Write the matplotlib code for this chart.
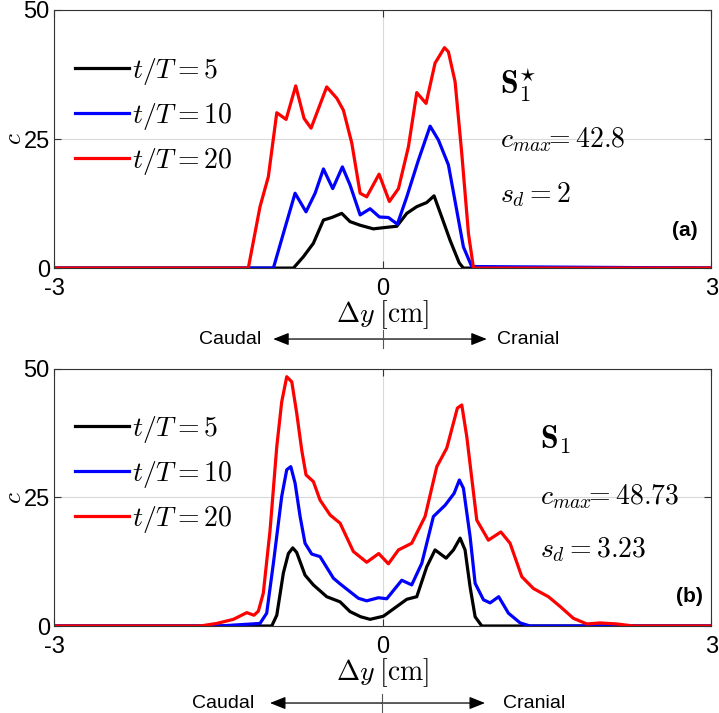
"""
plot.py -- concentration profiles c(Δy) for S1* (a) and S1 (b)
"""
import matplotlib
matplotlib.use("Agg")
import matplotlib.pyplot as plt
from matplotlib.patches import FancyArrowPatch
from matplotlib.lines import Line2D

plt.rcParams["mathtext.fontset"] = "cm"
plt.rcParams["font.family"] = ["Liberation Sans", "DejaVu Sans"]

# --- data: panel (a), S1* ----------------------------------------------------
a_x_black = [-3.0, -0.814, -0.723, -0.632, -0.540, -0.464, -0.373, -0.297, -0.205,
             -0.084, 0.038, 0.130, 0.221, 0.312, 0.403, 0.470, 0.540, 0.616, 0.700,
             0.738, 3.0]
a_c_black = [0.0, 0.0, 2.2, 4.8, 9.3, 9.8, 10.6, 9.0, 8.3,
             7.6, 7.9, 8.1, 10.6, 11.9, 12.7, 14.0, 9.9, 5.4, 1.0,
             0.0, 0.0]

a_x_blue = [-3.0, -0.997, -0.906, -0.799, -0.699, -0.616, -0.540, -0.455, -0.367,
            -0.297, -0.205, -0.114, -0.029, 0.053, 0.135, 0.221, 0.327, 0.434,
            0.510, 0.601, 0.671, 0.738, 0.814, 3.0]
a_c_blue = [0.0, 0.0, 6.7, 14.5, 10.9, 14.5, 19.2, 15.4, 19.6,
            16.1, 10.3, 11.5, 9.9, 9.8, 8.5, 13.8, 20.9, 27.5,
            24.8, 20.0, 11.9, 4.1, 0.3, 0.0]

a_x_red = [-3.0, -1.226, -1.119, -1.043, -0.966, -0.881, -0.793, -0.717, -0.653,
           -0.601, -0.510, -0.418, -0.358, -0.281, -0.205, -0.145, -0.032, 0.062,
           0.145, 0.236, 0.312, 0.397, 0.479, 0.565, 0.601, 0.662, 0.723, 0.784,
           0.830, 3.0]
a_c_red = [0.0, 0.0, 11.9, 17.7, 30.1, 28.8, 35.3, 29.0, 27.1,
           30.0, 35.1, 32.9, 30.6, 24.2, 14.5, 13.8, 18.2, 12.9,
           15.4, 23.5, 34.0, 31.9, 39.7, 42.7, 41.9, 36.1, 22.2, 6.7,
           0.0, 0.0]

# --- data: panel (b), S1 -----------------------------------------------------
b_x_black = [-3.0, -1.012, -0.966, -0.906, -0.860, -0.820, -0.784, -0.708, -0.632,
             -0.510, -0.388, -0.297, -0.200, -0.114, 0.007, 0.130, 0.221, 0.312,
             0.403, 0.479, 0.580, 0.647, 0.708, 0.753, 0.799, 0.845, 0.906, 3.0]
b_c_black = [0.0, 0.0, 2.1, 10.3, 14.1, 15.2, 14.3, 9.9, 8.0,
             5.7, 4.7, 2.8, 1.8, 1.3, 1.9, 3.8, 5.2, 5.7,
             11.5, 14.8, 13.2, 14.8, 17.1, 14.8, 7.6, 1.8, 0.0, 0.0]

b_x_blue = [-3.0, -1.500, -1.119, -1.058, -0.997, -0.921, -0.875, -0.838, -0.799,
            -0.753, -0.708, -0.647, -0.571, -0.449, -0.388, -0.221, -0.145, -0.038,
            0.038, 0.175, 0.266, 0.358, 0.464, 0.571, 0.653, 0.701, 0.738, 0.799,
            0.845, 0.921, 0.982, 1.060, 1.149, 1.256, 1.347, 3.0]
b_c_blue = [0.0, 0.0, 0.5, 2.5, 12.2, 25.2, 30.4, 31.0, 27.8,
            21.3, 16.1, 14.0, 13.5, 9.3, 8.2, 5.4, 4.9, 5.5,
            5.3, 8.9, 8.0, 12.2, 21.3, 23.5, 25.8, 28.4, 26.8, 17.4,
            8.3, 5.1, 4.5, 5.7, 2.5, 0.6, 0.0, 0.0]

b_x_red = [-3.0, -1.667, -1.514, -1.362, -1.240, -1.174, -1.134, -1.089, -1.027,
           -0.966, -0.921, -0.875, -0.829, -0.784, -0.738, -0.699, -0.632, -0.571,
           -0.479, -0.388, -0.267, -0.145, -0.035, 0.053, 0.145, 0.266, 0.388,
           0.495, 0.586, 0.683, 0.723, 0.769, 0.860, 0.966, 1.080, 1.164, 1.271,
           1.377, 1.514, 1.621, 1.742, 1.865, 1.986, 2.140, 2.290, 3.0]
b_c_red = [0.0, 0.0, 0.5, 1.3, 2.6, 2.1, 2.9, 6.4, 18.7,
           34.9, 43.6, 48.5, 47.5, 41.4, 34.2, 29.4, 28.1, 24.5,
           21.6, 20.0, 14.5, 12.4, 14.1, 12.1, 14.8, 16.1, 21.3,
           31.0, 34.6, 42.4, 43.0, 36.8, 20.6, 16.7, 18.3, 16.1, 9.6,
           7.3, 5.7, 3.8, 1.5, 0.4, 0.6, 0.4, 0.0, 0.0]

labels = [r"$t/T=5$", r"$t/T=10$", r"$t/T=20$"]
colors = ["black", "blue", "red"]

panels = [
    dict(rect=[0.0751, 0.624, 0.914, 0.362],
         xs=[a_x_black, a_x_blue, a_x_red], cs=[a_c_black, a_c_blue, a_c_red],
         name=r"$\mathbf{S}_{\mathbf{1}}^{\star}$", cmax=r"$c_{max}\!\!=42.8$",
         sd=r"$s_d=2$", tag="(a)", tx=0.679, ty=(0.709, 0.496, 0.283),
         tagxy=(0.980, 0.147), leg_y=0.865),
    dict(rect=[0.0751, 0.122, 0.914, 0.3605],
         xs=[b_x_black, b_x_blue, b_x_red], cs=[b_c_black, b_c_blue, b_c_red],
         name=r"$\mathbf{S_1}$", cmax=r"$c_{max}\!\!=48.73$",
         sd=r"$s_d=3.23$", tag="(b)", tx=0.740, ty=(0.724, 0.503, 0.296),
         tagxy=(0.988, 0.115), leg_y=0.868),
]

fig = plt.figure(figsize=(7.19, 7.13), dpi=100)

for p in panels:
    ax = fig.add_axes(p["rect"])
    for x, c, col, lab in zip(p["xs"], p["cs"], colors, labels):
        ax.plot(x, c, color=col, lw=2.3, label=lab)
    ax.set_xlim(-3, 3)
    ax.set_ylim(0, 50)
    ax.set_xticks([-3, 0, 3])
    ax.set_xticklabels(["-3", "0", "3"])
    ax.set_yticks([0, 25, 50])
    ax.grid(True, color="#d9d9d9", lw=0.8)
    ax.set_axisbelow(True)
    ax.tick_params(direction="in", length=5, width=0.8, top=True, right=True,
                   labelsize=17, colors="#333333", labelcolor="black")
    ax.tick_params(axis="x", pad=7)
    ax.tick_params(axis="y", pad=3)
    for s in ax.spines.values():
        s.set_color("#333333")
        s.set_linewidth(0.8)
    ax.set_xlabel(r"$\Delta y\;[\mathrm{cm}]$", fontsize=20, labelpad=-1)
    ax.set_ylabel(r"$c$", fontsize=18)
    ax.yaxis.set_label_coords(-0.043, 0.5)
    ax.legend(loc="upper left", bbox_to_anchor=(0.015, p["leg_y"]), frameon=False,
              fontsize=20, handlelength=1.95, handletextpad=0.1, labelspacing=0.5,
              borderaxespad=0)
    ax.text(p["tx"], p["ty"][0], p["name"], transform=ax.transAxes, fontsize=23,
            va="center", ha="left")
    ax.text(p["tx"], p["ty"][1], p["cmax"], transform=ax.transAxes, fontsize=20,
            va="center", ha="left")
    ax.text(p["tx"], p["ty"][2], p["sd"], transform=ax.transAxes, fontsize=20,
            va="center", ha="left")
    ax.text(p["tagxy"][0], p["tagxy"][1], p["tag"], transform=ax.transAxes,
            fontsize=15, fontweight="bold", va="center", ha="right")

# --- Caudal <-> Cranial arrows -------------------------------------------
for y, x0, x1, xm, xl, xr in [(0.5245, 0.380, 0.677, 0.533, 0.364, 0.691),
                               (0.0140, 0.3755, 0.6745, 0.531, 0.353, 0.6995)]:
    for xe in (x0, x1):
        fig.add_artist(FancyArrowPatch(
            (xm, y), (xe, y), transform=fig.transFigure,
            arrowstyle="-|>,head_length=0.95,head_width=0.38",
            mutation_scale=10, lw=0.9, color="black", shrinkA=0, shrinkB=0))
    fig.add_artist(Line2D([xm, xm], [y - 0.013, y + 0.013],
                          transform=fig.transFigure, color="#555555", lw=0.8))
    fig.text(xl, y, "Caudal", fontsize=14, ha="right", va="center")
    fig.text(xr, y, "Cranial", fontsize=14, ha="left", va="center")

fig.savefig("out.png", dpi=100)
